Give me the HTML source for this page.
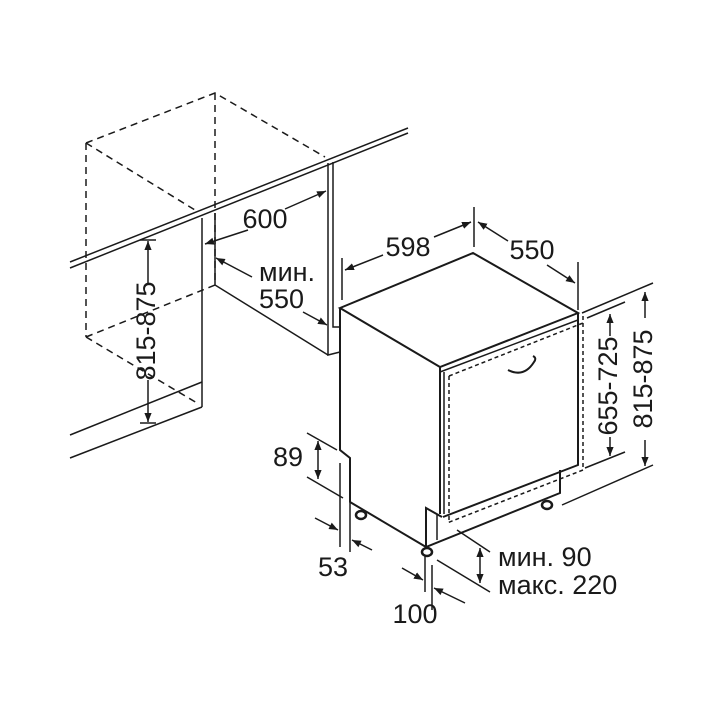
<!DOCTYPE html>
<html><head><meta charset="utf-8"><style>
html,body{margin:0;padding:0;background:#fff;width:720px;height:720px;overflow:hidden}
text{font-family:"Liberation Sans",sans-serif;fill:#1a1a1a}
</style></head><body>
<svg width="720" height="720" viewBox="0 0 720 720" xmlns="http://www.w3.org/2000/svg">
<defs>
<marker id="a" viewBox="0 0 10 10" refX="10" refY="5" markerWidth="9" markerHeight="9" orient="auto-start-reverse" markerUnits="userSpaceOnUse"><path d="M0,1 L10,5 L0,9 z" fill="#1a1a1a"/></marker>
</defs>
<g stroke="#1a1a1a" fill="none" stroke-width="1.5">
<g stroke-dasharray="7,5">
<path d="M86,143 L215,93 L325,157"/>
<path d="M215,93 L215,285"/>
<path d="M86,143 L86,337"/>
<path d="M86,337 L215,285"/>
<path d="M86,337 L197,403"/>
<path d="M86,143 L195,210"/>
</g>
<path d="M70,262 L408,128"/>
<path d="M70,268 L408,133"/>
<path d="M202,218 L202,407"/>
<path d="M70,435 L202,382"/>
<path d="M70,458 L202,407"/>
<path d="M215,213 L215,285 L328,355"/>
<path d="M328,163 L328,355 L340,352"/>
<path d="M333,162 L333,327 L340,327"/>
<g stroke-width="2">
<path d="M340,308 L473,253 L578,313 L440,367 Z"/>
<path d="M340,308 L340,450 L350,458 L350,502 L426,547 L560,493 L560,470"/>
<path d="M426,547 L426,508 L442,517"/>
<path d="M440,367 L440,514"/>
<path d="M578,313 L578,465 L443,517"/>
</g>
<path d="M440,372 L578,320"/>
<path d="M444,372 L444,514"/>
<path d="M437,515 L437,540"/>
<g stroke-dasharray="4,3">
<path d="M449,376 L583,323"/>
<path d="M449,376 L449,520"/>
<path d="M583,316 L583,470 L447,523"/>
</g>
<path d="M508,370 Q524,378 534,362 Q537,358 533,356" stroke-width="2"/>
<ellipse cx="361" cy="515" rx="5" ry="4" stroke-width="2.5"/>
<ellipse cx="427" cy="552" rx="5" ry="4" stroke-width="2.5"/>
<ellipse cx="547" cy="505" rx="5" ry="4" stroke-width="2.5"/>
<path d="M148,283 L148,241" marker-end="url(#a)"/>
<path d="M148,380 L148,422" marker-end="url(#a)"/>
<path d="M140,240 L156,240"/><path d="M140,423 L156,423"/>
<path d="M248,230 L205,244" marker-end="url(#a)"/>
<path d="M285,209 L326,191" marker-end="url(#a)"/>
<path d="M252,277 L216,258" marker-end="url(#a)"/>
<path d="M303,312 L327,325" marker-end="url(#a)"/>
<path d="M342,258 L342,300"/>
<path d="M474,207 L474,247"/>
<path d="M383,255 L345,270" marker-end="url(#a)"/>
<path d="M434,237 L471,222" marker-end="url(#a)"/>
<path d="M578,262 L578,310"/>
<path d="M478,222 L508,241" marker-start="url(#a)"/>
<path d="M547,265 L575,283" marker-end="url(#a)"/>
<path d="M587,318 L625,302"/><path d="M585,468 L625,452"/>
<path d="M610,336 L610,314" marker-end="url(#a)"/>
<path d="M610,437 L610,456" marker-end="url(#a)"/>
<path d="M582,313 L653,283"/><path d="M562,505 L653,465"/>
<path d="M645,318 L645,292" marker-end="url(#a)"/>
<path d="M645,440 L645,466" marker-end="url(#a)"/>
<path d="M307,433 L337,450"/><path d="M307,477 L343,498"/>
<path d="M318,441 L318,479" marker-start="url(#a)" marker-end="url(#a)"/>
<path d="M340,463 L340,547"/><path d="M350,503 L350,552"/>
<path d="M315,518 L338,530" marker-end="url(#a)"/>
<path d="M372,550 L352,540" marker-end="url(#a)"/>
<path d="M425,555 L425,592"/><path d="M432,565 L432,610"/>
<path d="M402,568 L423,580" marker-end="url(#a)"/>
<path d="M465,603 L434,588" marker-end="url(#a)"/>
<path d="M457,530 L490,552"/><path d="M437,560 L490,592"/>
<path d="M480,548 L480,583" marker-start="url(#a)" marker-end="url(#a)"/>
</g>
<g font-size="27">
<text x="148" y="331" text-anchor="middle" dominant-baseline="middle" transform="rotate(-90 148 331)">815-875</text>
<text x="265" y="228" text-anchor="middle">600</text>
<text x="259" y="281">мин.</text>
<text x="259" y="308">550</text>
<text x="408" y="256" text-anchor="middle">598</text>
<text x="532" y="259" text-anchor="middle">550</text>
<text x="610" y="386" text-anchor="middle" dominant-baseline="middle" transform="rotate(-90 610 386)">655-725</text>
<text x="645" y="379" text-anchor="middle" dominant-baseline="middle" transform="rotate(-90 645 379)">815-875</text>
<text x="288" y="466" text-anchor="middle">89</text>
<text x="333" y="576" text-anchor="middle">53</text>
<text x="415" y="623" text-anchor="middle">100</text>
<text x="498" y="566">мин. 90</text>
<text x="498" y="594">макс. 220</text>
</g>
</svg>
</body></html>
